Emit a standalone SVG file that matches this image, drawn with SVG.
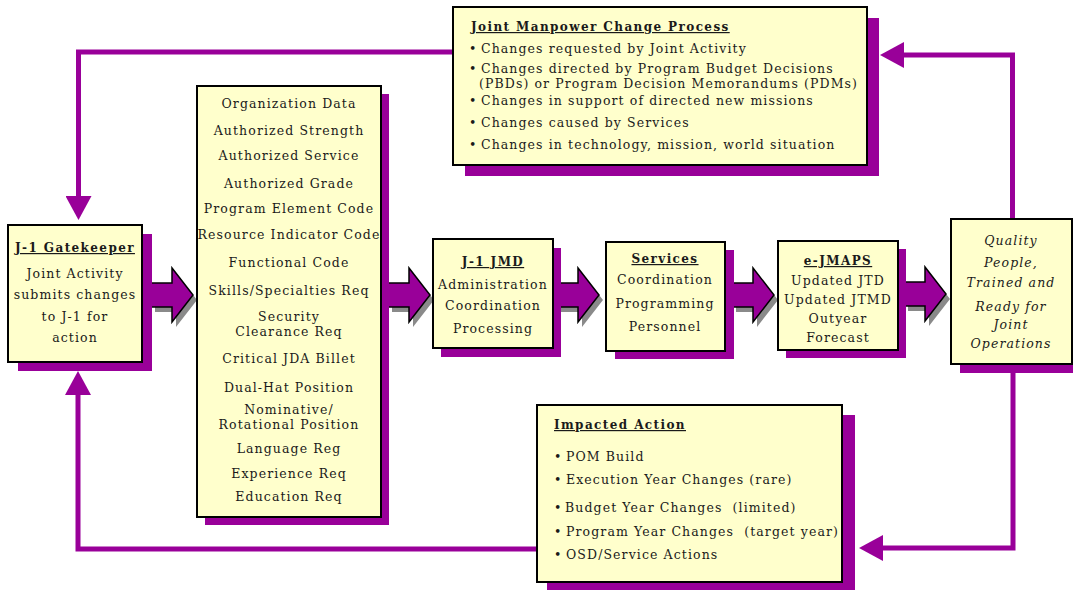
<svg xmlns="http://www.w3.org/2000/svg" xmlns:xlink="http://www.w3.org/1999/xlink" width="1073" height="590" viewBox="0 0 1073 590">
  <style>
    .box { fill: #FFFFCC; stroke: #000; stroke-width: 2; }
    .shadow { fill: #990099; }
    .t { font-family: "DejaVu Serif", "Liberation Serif", serif; font-size: 12.5px; letter-spacing: 1.1px; fill: #1a1a1a; }
    .c { text-anchor: middle; }
    .h { font-weight: bold; font-size: 12px; letter-spacing: 1.4px; text-decoration: underline; }
    .it { font-style: italic; }
    .conn { fill: none; stroke: #990099; stroke-width: 5; marker-end: url(#head); }
    .blk { fill: #990099; stroke: #000; stroke-width: 1.5; stroke-linejoin: miter; }
    .blkshadow { fill: #8a8a8a; }
  </style>
  <defs>
    <marker id="head" viewBox="0 0 24 26" markerWidth="24" markerHeight="26" refX="1" refY="13" orient="auto" markerUnits="userSpaceOnUse">
      <path d="M0,0 L24,13 L0,26 Z" fill="#990099"/>
    </marker>
    <!-- block arrow, origin at the tail centre -->
    <path id="blockArrow" d="M0,-12 H21 V-27 L42,0 L21,27 V12 H0 Z"/>
  </defs>

  <rect width="1073" height="590" fill="#fff"/>

  <!-- feedback connectors -->
  <g id="connectors">
    <path class="conn" d="M453,52 H78.5 V197"/>
    <path class="conn" d="M1012.5,219 V55 H903"/>
    <path class="conn" d="M1013,373 V548 H882"/>
    <path class="conn" d="M537,549 H78 V394"/>
    <!-- flow arrows between the main stages -->
    <g id="flow-arrows">
      <use xlink:href="#blockArrow" class="blkshadow" x="155" y="300"/>
      <use xlink:href="#blockArrow" class="blk" x="151" y="295"/>
      <use xlink:href="#blockArrow" class="blkshadow" x="392" y="300"/>
      <use xlink:href="#blockArrow" class="blk" x="388" y="295"/>
      <use xlink:href="#blockArrow" class="blkshadow" x="561" y="300"/>
      <use xlink:href="#blockArrow" class="blk" x="557" y="295"/>
      <use xlink:href="#blockArrow" class="blkshadow" x="736" y="300"/>
      <use xlink:href="#blockArrow" class="blk" x="732" y="295"/>
      <use xlink:href="#blockArrow" class="blkshadow" x="908" y="299"/>
      <use xlink:href="#blockArrow" class="blk" x="904" y="294"/>
    </g>
  </g>

  <!-- top: change drivers -->
  <g id="change-process">
    <rect class="shadow" x="465" y="18" width="414" height="158"/>
    <rect class="box" x="453" y="7" width="414" height="158"/>
    <text class="t h" x="471" y="31">Joint Manpower Change Process</text>
    <text class="t" x="469" y="53">•</text>
    <text class="t" x="481" y="53">Changes requested by Joint Activity</text>
    <text class="t" x="469" y="73">•</text>
    <text class="t" x="481" y="73">Changes directed by Program Budget Decisions</text>
    <text class="t" x="479" y="88">(PBDs) or Program Decision Memorandums (PDMs)</text>
    <text class="t" x="469" y="105">•</text>
    <text class="t" x="481" y="105">Changes in support of directed new missions</text>
    <text class="t" x="469" y="127">•</text>
    <text class="t" x="481" y="127">Changes caused by Services</text>
    <text class="t" x="469" y="149">•</text>
    <text class="t" x="481" y="149">Changes in technology, mission, world situation</text>
  </g>

  <g id="gatekeeper">
    <rect class="shadow" x="18" y="234" width="134" height="137"/>
    <rect class="box" x="8" y="225" width="134" height="137"/>
    <text class="t h c" x="75" y="252">J-1 Gatekeeper</text>
    <text class="t c" x="75" y="278">Joint Activity</text>
    <text class="t c" x="75" y="299">submits changes</text>
    <text class="t c" x="75" y="321">to J-1 for</text>
    <text class="t c" x="75" y="342">action</text>
  </g>

  <g id="data-elements">
    <rect class="shadow" x="205" y="94" width="184" height="431"/>
    <rect class="box" x="197" y="86" width="184" height="431"/>
    <text class="t c" x="289" y="108">Organization Data</text>
    <text class="t c" x="289" y="135">Authorized Strength</text>
    <text class="t c" x="289" y="160">Authorized Service</text>
    <text class="t c" x="289" y="188">Authorized Grade</text>
    <text class="t c" x="289" y="213">Program Element Code</text>
    <text class="t c" x="289" y="239">Resource Indicator Code</text>
    <text class="t c" x="289" y="267">Functional Code</text>
    <text class="t c" x="289" y="295">Skills/Specialties Req</text>
    <text class="t c" x="289" y="321">Security</text>
    <text class="t c" x="289" y="336">Clearance Req</text>
    <text class="t c" x="289" y="363">Critical JDA Billet</text>
    <text class="t c" x="289" y="392">Dual-Hat Position</text>
    <text class="t c" x="289" y="414">Nominative/</text>
    <text class="t c" x="289" y="429">Rotational Position</text>
    <text class="t c" x="289" y="453">Language Reg</text>
    <text class="t c" x="289" y="478">Experience Req</text>
    <text class="t c" x="289" y="501">Education Req</text>
  </g>

  <g id="j1-jmd">
    <rect class="shadow" x="441" y="248" width="120" height="109"/>
    <rect class="box" x="433" y="239" width="120" height="109"/>
    <text class="t h c" x="493" y="266">J-1 JMD</text>
    <text class="t c" x="493" y="289">Administration</text>
    <text class="t c" x="493" y="310">Coordination</text>
    <text class="t c" x="493" y="333">Processing</text>
  </g>

  <g id="services">
    <rect class="shadow" x="615" y="250" width="119" height="109"/>
    <rect class="box" x="606" y="242" width="119" height="109"/>
    <text class="t h c" x="665" y="263">Services</text>
    <text class="t c" x="665" y="284">Coordination</text>
    <text class="t c" x="665" y="308">Programming</text>
    <text class="t c" x="665" y="331">Personnel</text>
  </g>

  <g id="e-jmaps">
    <rect class="shadow" x="786" y="249" width="120" height="109"/>
    <rect class="box" x="778" y="241" width="120" height="109"/>
    <text class="t h c" x="838" y="265">e-JMAPS</text>
    <text class="t c" x="838" y="285">Updated JTD</text>
    <text class="t c" x="838" y="304">Updated JTMD</text>
    <text class="t c" x="838" y="323">Outyear</text>
    <text class="t c" x="838" y="342">Forecast</text>
  </g>

  <g id="outcome">
    <rect class="shadow" x="960" y="228" width="121" height="145"/>
    <rect class="box" x="951" y="219" width="121" height="145"/>
    <text class="t c it" x="1011" y="245">Quality</text>
    <text class="t c it" x="1011" y="267">People,</text>
    <text class="t c it" x="1011" y="287">Trained and</text>
    <text class="t c it" x="1011" y="311">Ready for</text>
    <text class="t c it" x="1011" y="329">Joint</text>
    <text class="t c it" x="1011" y="348">Operations</text>
  </g>

  <g id="impacted-action">
    <rect class="shadow" x="547" y="415" width="308" height="177"/>
    <rect class="box" x="537" y="405" width="305" height="177"/>
    <text class="t h" x="554" y="429">Impacted Action</text>
    <text class="t" x="554" y="461">•</text>
    <text class="t" x="566" y="461">POM Build</text>
    <text class="t" x="554" y="484">•</text>
    <text class="t" x="566" y="484">Execution Year Changes (rare)</text>
    <text class="t" x="554" y="512">•</text>
    <text class="t" x="565" y="512" xml:space="preserve">Budget Year Changes  (limited)</text>
    <text class="t" x="554" y="536">•</text>
    <text class="t" x="566" y="536" xml:space="preserve">Program Year Changes  (target year)</text>
    <text class="t" x="554" y="559">•</text>
    <text class="t" x="566" y="559">OSD/Service Actions</text>
  </g>
</svg>
